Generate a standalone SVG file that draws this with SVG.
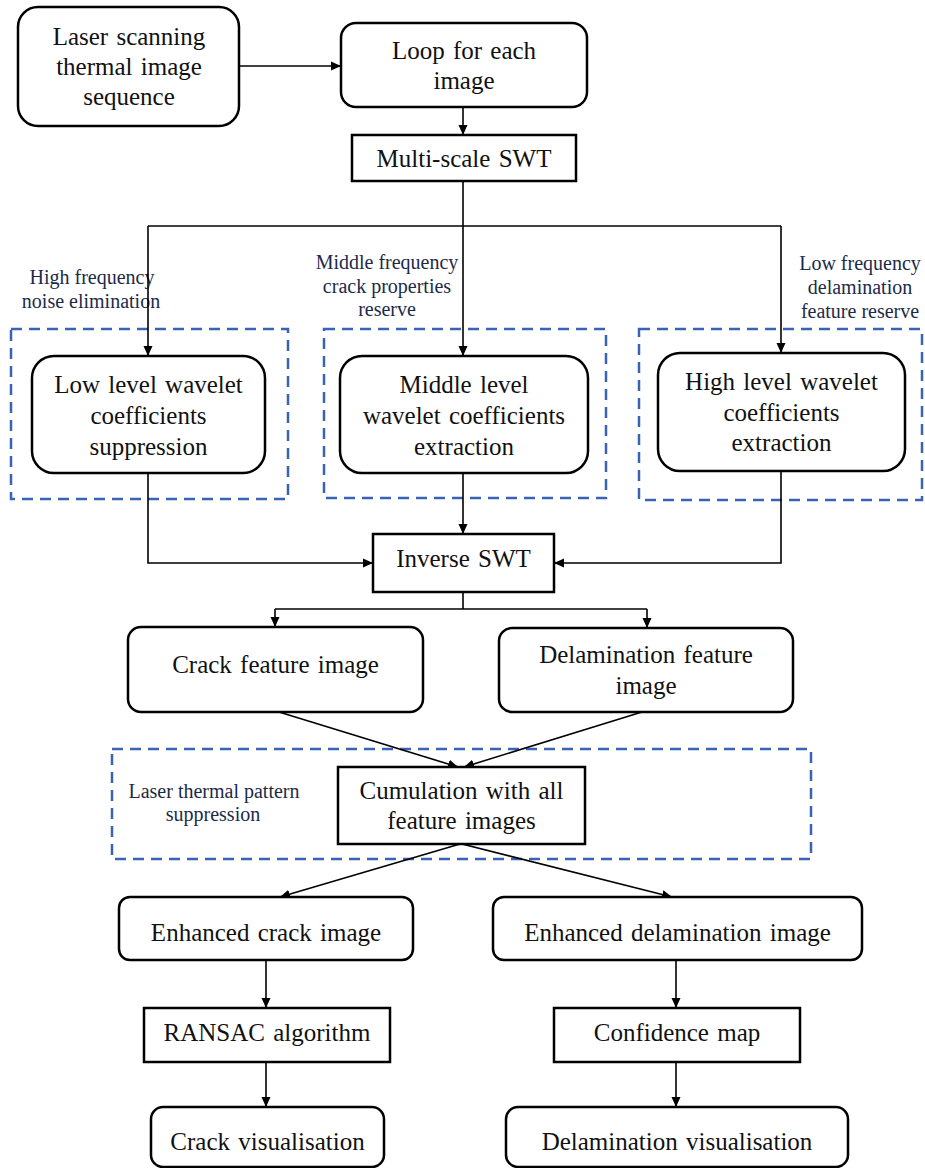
<svg xmlns="http://www.w3.org/2000/svg" width="925" height="1168" viewBox="0 0 925 1168">
<defs>
<marker id="arr" markerWidth="10" markerHeight="10" refX="10" refY="5" orient="auto" markerUnits="userSpaceOnUse">
<path d="M0,0.5 L10,5 L0,9.5 Z" fill="#000"/>
</marker>
<style>
.nd{fill:#fff;stroke:#000;stroke-width:2.5}
.t{font-family:"Liberation Serif","Times New Roman",serif;font-size:25px;fill:#111;text-anchor:middle;word-spacing:2px}
.a{font-family:"Liberation Serif","Times New Roman",serif;font-size:20px;fill:#1c2a4a;text-anchor:middle}
.ds{fill:none;stroke:#3a63b6;stroke-width:2.5;stroke-dasharray:11 7}
.c{fill:none;stroke:#000;stroke-width:1.6}
</style>
</defs>
<rect width="925" height="1168" fill="#fff"/>

<g id="groups">
<rect class="ds" x="11" y="329" width="277" height="170"/>
<rect class="ds" x="324" y="329" width="282" height="169"/>
<rect class="ds" x="639" y="329" width="283" height="171"/>
<rect class="ds" x="112" y="749" width="699" height="110"/>
</g>

<g id="annotations">
<text class="a" x="92" y="284">High frequency</text>
<text class="a" x="91" y="308">noise elimination</text>
<text class="a" x="387" y="269">Middle frequency</text>
<text class="a" x="387" y="293">crack properties</text>
<text class="a" x="387" y="316">reserve</text>
<text class="a" x="860" y="270">Low frequency</text>
<text class="a" x="860" y="294">delamination</text>
<text class="a" x="860" y="318">feature reserve</text>
<text class="a" x="214" y="798">Laser thermal pattern</text>
<text class="a" x="213" y="821">suppression</text>
</g>

<g id="connectors">
<line class="c" x1="239" y1="66" x2="341" y2="66" marker-end="url(#arr)"/>
<line class="c" x1="463" y1="107" x2="463" y2="135" marker-end="url(#arr)"/>
<line class="c" x1="463" y1="181" x2="463" y2="356" marker-end="url(#arr)"/>
<line class="c" x1="148" y1="226" x2="781" y2="226"/>
<line class="c" x1="148" y1="226" x2="148" y2="356" marker-end="url(#arr)"/>
<line class="c" x1="781" y1="226" x2="781" y2="353" marker-end="url(#arr)"/>
<polyline class="c" points="148,473 148,563 373,563" marker-end="url(#arr)"/>
<line class="c" x1="463" y1="473" x2="463" y2="534" marker-end="url(#arr)"/>
<polyline class="c" points="781,471 781,563 554,563" marker-end="url(#arr)"/>
<line class="c" x1="463" y1="592" x2="463" y2="609"/>
<line class="c" x1="275" y1="609" x2="647" y2="609"/>
<line class="c" x1="275" y1="609" x2="275" y2="627" marker-end="url(#arr)"/>
<line class="c" x1="647" y1="609" x2="647" y2="628" marker-end="url(#arr)"/>
<line class="c" x1="279" y1="712" x2="458" y2="767" marker-end="url(#arr)"/>
<line class="c" x1="642" y1="712" x2="464" y2="767" marker-end="url(#arr)"/>
<line class="c" x1="460" y1="844" x2="280" y2="897" marker-end="url(#arr)"/>
<line class="c" x1="462" y1="844" x2="672" y2="897" marker-end="url(#arr)"/>
<line class="c" x1="266" y1="960" x2="266" y2="1008" marker-end="url(#arr)"/>
<line class="c" x1="266" y1="1062" x2="266" y2="1107" marker-end="url(#arr)"/>
<line class="c" x1="676" y1="960" x2="676" y2="1008" marker-end="url(#arr)"/>
<line class="c" x1="676" y1="1062" x2="676" y2="1107" marker-end="url(#arr)"/>
</g>

<g id="n-laser">
<rect class="nd" x="18" y="7" width="221" height="119" rx="20"/>
<text class="t" x="129" y="45">Laser scanning</text>
<text class="t" x="129" y="75">thermal image</text>
<text class="t" x="129" y="105">sequence</text>
</g>
<g id="n-loop">
<rect class="nd" x="341" y="23" width="246" height="84" rx="15"/>
<text class="t" x="464" y="59">Loop for each</text>
<text class="t" x="464" y="89">image</text>
</g>
<g id="n-mswt">
<rect class="nd" x="352" y="135" width="224" height="46"/>
<text class="t" x="464" y="167">Multi-scale SWT</text>
</g>
<g id="n-low">
<rect class="nd" x="32" y="356" width="233" height="117" rx="22"/>
<text class="t" x="148.5" y="393">Low level wavelet</text>
<text class="t" x="148.5" y="424">coefficients</text>
<text class="t" x="148.5" y="455">suppression</text>
</g>
<g id="n-mid">
<rect class="nd" x="340" y="356" width="248" height="117" rx="22"/>
<text class="t" x="464" y="393">Middle level</text>
<text class="t" x="464" y="424">wavelet coefficients</text>
<text class="t" x="464" y="455">extraction</text>
</g>
<g id="n-high">
<rect class="nd" x="658" y="353" width="247" height="118" rx="22"/>
<text class="t" x="781.5" y="390">High level wavelet</text>
<text class="t" x="781.5" y="421">coefficients</text>
<text class="t" x="781.5" y="451">extraction</text>
</g>
<g id="n-iswt">
<rect class="nd" x="373" y="534" width="181" height="58"/>
<text class="t" x="463.5" y="567">Inverse SWT</text>
</g>
<g id="n-crackfeat">
<rect class="nd" x="128" y="627" width="295" height="85" rx="13"/>
<text class="t" x="275.5" y="673">Crack feature image</text>
</g>
<g id="n-delamfeat">
<rect class="nd" x="499" y="628" width="294" height="84" rx="13"/>
<text class="t" x="646" y="663">Delamination feature</text>
<text class="t" x="646" y="694">image</text>
</g>
<g id="n-cumul">
<rect class="nd" x="338" y="767" width="247" height="77"/>
<text class="t" x="461.5" y="799">Cumulation with all</text>
<text class="t" x="461.5" y="829">feature images</text>
</g>
<g id="n-encrack">
<rect class="nd" x="119" y="897" width="294" height="63" rx="11"/>
<text class="t" x="266" y="941">Enhanced crack image</text>
</g>
<g id="n-endelam">
<rect class="nd" x="493" y="897" width="369" height="63" rx="11"/>
<text class="t" x="677.5" y="941">Enhanced delamination image</text>
</g>
<g id="n-ransac">
<rect class="nd" x="144" y="1008" width="246" height="54"/>
<text class="t" x="267" y="1041">RANSAC algorithm</text>
</g>
<g id="n-conf">
<rect class="nd" x="554" y="1008" width="246" height="54"/>
<text class="t" x="677" y="1041">Confidence map</text>
</g>
<g id="n-crackvis">
<rect class="nd" x="151" y="1107" width="233" height="60" rx="12"/>
<text class="t" x="267.5" y="1150">Crack visualisation</text>
</g>
<g id="n-delamvis">
<rect class="nd" x="506" y="1107" width="342" height="60" rx="12"/>
<text class="t" x="677" y="1150">Delamination visualisation</text>
</g>
</svg>
